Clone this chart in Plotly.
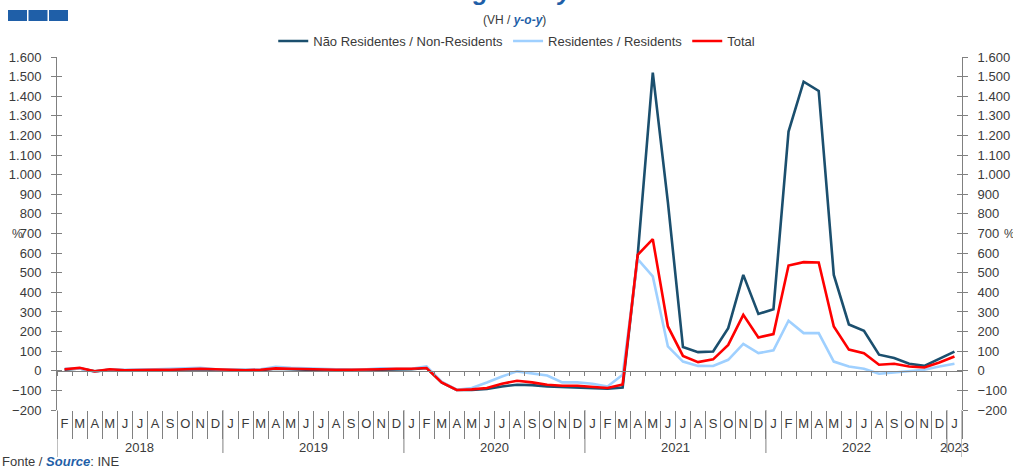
import plotly.graph_objects as go

# ---------------------------------------------------------------
# Dados: Fev 2018 .. Jan 2023 (variação homóloga, %)
# ---------------------------------------------------------------
years = ["2018"] * 11 + ["2019"] * 12 + ["2020"] * 12 + ["2021"] * 12 + ["2022"] * 12 + ["2023"]
months = (["F", "M", "A", "M", "J", "J", "A", "S", "O", "N", "D"]
          + ["J", "F", "M", "A", "M", "J", "J", "A", "S", "O", "N", "D"] * 4
          + ["J"])

non_residents = [5, 12, -3, 5, 2, 3, 5, 5, 5, 8, 5,
                 5, 2, 3, 10, 8, 5, 3, 5, 3, 2, 5, 8,
                 8, 15, -60, -98, -98, -93, -80, -71, -73, -80, -83, -83,
                 -88, -92, -85, 590, 1520, 860, 121, 95, 98, 217, 489, 290,
                 314, 1220, 1474, 1427, 489, 236, 204, 82, 65, 36, 25, 60,
                 98]
residents = [10, 12, -5, 8, 5, 8, 8, 10, 12, 15, 8,
             5, 5, 8, 20, 15, 12, 8, 5, 5, 8, 12, 10,
             10, 22, -55, -97, -88, -60, -29, -3, -12, -24, -59, -59,
             -66, -80, -21, 569, 481, 124, 47, 25, 24, 56, 137, 90,
             104, 255, 192, 192, 47, 22, 10, -15, -9, -3, 5, 22,
             36]
total = [8, 15, -3, 8, 3, 5, 5, 5, 8, 10, 8,
         5, 3, 5, 12, 10, 8, 5, 5, 5, 5, 8, 10,
         10, 14, -60, -98, -95, -88, -66, -51, -59, -71, -76, -76,
         -83, -88, -70, 591, 671, 226, 76, 44, 58, 132, 285, 170,
         187, 537, 554, 552, 226, 108, 90, 31, 36, 22, 17, 42,
         73]

y_ticks = list(range(-200, 1601, 100))

dark = "#1B4F6E"
light = "#9FD0FF"
red = "#FF0000"
blue = "#1F5FA8"
txt = "#3A3A3A"
axc = "#808080"
FONT = "Liberation Sans, Arial, sans-serif"

n = len(months)
idx = list(range(n))
bounds = [i - 0.5 for i in range(n + 1)]
year_names = sorted(set(years))
year_pos = [sum(i for i in idx if years[i] == yname) / years.count(yname) for yname in year_names]
year_breaks = [i - 0.5 for i in range(1, n) if years[i] != years[i - 1]]

fig = go.Figure()
fig.add_trace(go.Scatter(x=idx, y=non_residents, mode="lines",
                         name="Não Residentes / Non-Residents",
                         line=dict(color=dark, width=2.6)))
fig.add_trace(go.Scatter(x=idx, y=residents, mode="lines",
                         name="Residentes / Residents",
                         line=dict(color=light, width=2.6)))
fig.add_trace(go.Scatter(x=idx, y=total, mode="lines",
                         name="Total",
                         line=dict(color=red, width=2.6)))
# eixos auxiliares (linha do zero e marcas cruzadas), sem dados visíveis
for xa, ya in [("x2", "y2"), ("x", "y3"), ("x", "y4")]:
    fig.add_trace(go.Scatter(x=[None], y=[None], xaxis=xa, yaxis=ya,
                             showlegend=False, hoverinfo="skip"))

yax = dict(range=[-200, 1600], tickvals=y_ticks, separatethousands=True,
           showgrid=False, zeroline=False, showline=True, linecolor=axc,
           linewidth=1, ticklen=5, tickcolor=axc, automargin=False)

fig.update_layout(
    width=1013, height=467,
    margin=dict(l=57, r=51, t=57, b=57),
    plot_bgcolor="white", paper_bgcolor="white",
    font=dict(family=FONT, size=13, color=txt),
    separators=",.",
    showlegend=True,
    legend=dict(orientation="h", x=0.508, xanchor="center", y=1 + 16 / 353, yanchor="middle",
                font=dict(size=13, color=txt), itemwidth=30, tracegroupgap=0),
    xaxis=dict(range=[-0.5, n - 0.5], tickvals=idx, ticktext=months, ticks="",
               ticklabelstandoff=4, showgrid=False, showline=False, zeroline=False,
               automargin=False, tickfont=dict(size=13, color=txt),
               minor=dict(tickvals=bounds, ticks="outside", ticklen=28,
                          tickcolor=axc, showgrid=False)),
    xaxis2=dict(overlaying="x", anchor="free", position=200 / 1800,
                range=[-0.5, n - 0.5], tick0=-0.5, dtick=1, ticks="outside",
                ticklen=4, tickcolor=axc, showline=True, linecolor=axc,
                showticklabels=False, showgrid=False, zeroline=False, automargin=False),
    yaxis=dict(ticks="outside", side="left", ticklabelstandoff=7,
               tickfont=dict(size=13, color=txt), **yax),
    yaxis2=dict(ticks="outside", side="right", overlaying="y", anchor="x",
                ticklabelstandoff=7, tickfont=dict(size=13, color=txt), **yax),
    yaxis3=dict(ticks="inside", side="left", overlaying="y", anchor="x",
                showticklabels=False, **yax),
    yaxis4=dict(ticks="inside", side="right", overlaying="y", anchor="x",
                showticklabels=False, **yax),
)

# anos e separadores
for yname, xp in zip(year_names, year_pos):
    fig.add_annotation(text=yname, x=xp, xref="x", yref="paper", y=-37 / 353,
                       yanchor="middle", showarrow=False, font=dict(size=13, color=txt))
for xb in year_breaks:
    fig.add_shape(type="line", xref="x", yref="paper", x0=xb, x1=xb,
                  y0=0, y1=-43 / 353, line=dict(color=axc, width=1))
for xb in (bounds[0], bounds[-1]):
    fig.add_shape(type="line", xref="x", yref="paper", x0=xb, x1=xb,
                  y0=0, y1=-47 / 353, line=dict(color=axc, width=1))

# cabeçalho e notas
fig.add_annotation(text="<b><i>Overnight Stays</i></b>", xref="paper", yref="paper",
                   x=(490 - 57) / 905, xanchor="center", y=1.0 + 66 / 353, yanchor="middle",
                   showarrow=False, font=dict(size=25, color=blue))
fig.add_annotation(text="(VH / <b><i><span style='color:%s'>y-o-y</span></i></b>)" % blue,
                   xref="paper", yref="paper", x=0.506, xanchor="center", y=1.0 + 37 / 353,
                   yanchor="middle", showarrow=False, font=dict(size=12, color=txt))
fig.add_annotation(text="%", xref="paper", yref="paper", x=(17 - 57) / 905, xanchor="center",
                   y=900 / 1800, yanchor="middle", showarrow=False,
                   font=dict(size=12, color=txt))
fig.add_annotation(text="%", xref="paper", yref="paper", x=1 + 47 / 905, xanchor="center",
                   y=900 / 1800, yanchor="middle", showarrow=False,
                   font=dict(size=12, color=txt))
fig.add_annotation(text="Fonte / <b><i><span style='color:%s'>Source</span></i></b>: INE" % blue,
                   xref="paper", yref="paper", x=-57 / 905, xanchor="left",
                   y=-51 / 353, yanchor="middle", showarrow=False,
                   font=dict(size=13, color=txt))
for i in range(3):
    fig.add_shape(type="rect", xref="paper", yref="paper",
                  x0=(-49 + 20.5 * i) / 905, x1=(-30 + 20.5 * i) / 905,
                  y0=1 + 36 / 353, y1=1 + 47 / 353,
                  fillcolor=blue, line=dict(width=0))

fig.write_html("out.html", config={"displayModeBar": False},
               post_script="document.body.style.margin='0';")
